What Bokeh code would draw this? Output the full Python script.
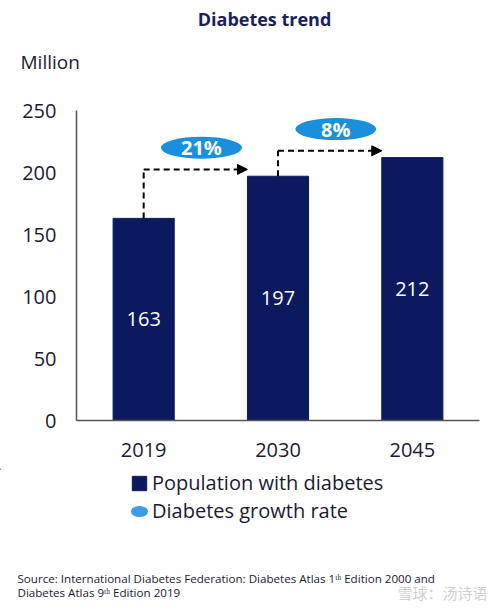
from bokeh.plotting import figure
from bokeh.layouts import column
from bokeh.models import (Range1d, FixedTicker, Label, Legend, LegendItem, Arrow,
                          NormalHead, ColumnDataSource)
from bokeh.core.properties import value
from bokeh.embed import file_html
from bokeh.resources import INLINE

# ---- data ----
years = ["2019", "2030", "2045"]
population = [163, 197, 212]
growth_labels = ["21%", "8%"]
y_ticks = [0, 50, 100, 150, 200, 250]

NAVY = "#0b1a5e"
BLUE = "#1a8fdc"
LEG_BLUE = "#3d9be3"
TEXT = "#1b1b33"
FONT = "Open Sans"
BAR_W = 0.455
W = 500
H_HEAD, H_MAIN, H_FOOT = 96, 372, 140


def no_align(f):
    try:
        f.frame_align = False
    except Exception:
        pass
    return f


def blank(h):
    f = figure(width=W, height=h, x_range=Range1d(0, W), y_range=Range1d(h, 0),
               output_backend="svg", toolbar_location=None, title=None,
               x_axis_location=None, y_axis_location=None,
               min_border_left=0, min_border_right=0, min_border_top=0, min_border_bottom=0)
    f.xgrid.visible = False
    f.ygrid.visible = False
    f.outline_line_color = None
    f.background_fill_color = "white"
    f.border_fill_color = "white"
    return no_align(f)


# ---- header: title + unit ----
head = blank(H_HEAD)
head.add_layout(Label(x=264, y=18, text="Diabetes trend", text_font=FONT,
                      text_font_size="18px", text_font_style="bold", text_color="#1a1f5c",
                      text_align="center", text_baseline="middle"))
head.add_layout(Label(x=20, y=61, text="Million", text_font=FONT, text_font_size="19px",
                      text_color=TEXT, text_align="left", text_baseline="middle"))

# ---- main chart ----
p = figure(width=W, height=H_MAIN, title=None,
           x_range=Range1d(-0.5, len(years) - 0.5), y_range=Range1d(0, 250),
           output_backend="svg", toolbar_location=None,
           min_border_left=76, min_border_right=21, min_border_top=14, min_border_bottom=48)
no_align(p)
p.xgrid.visible = False
p.ygrid.visible = False
p.outline_line_color = None
p.background_fill_color = "white"
p.border_fill_color = "white"

xs = list(range(len(years)))
bars = p.vbar(x=xs, top=population, width=BAR_W, color=NAVY)

p.text(x=xs, y=[v / 2 for v in population], text=[str(v) for v in population],
       text_color="white", text_font=value(FONT), text_font_size="20px",
       text_align="center", text_baseline="middle")

lvl = [population[i + 1] + 5.5 for i in range(len(growth_labels))]
p.segment(x0=xs[:-1], y0=population[:-1], x1=xs[:-1], y1=lvl,
          line_color="black", line_width=2, line_dash="6 4")
asrc = ColumnDataSource(dict(xs=xs[:-1], ys=lvl,
                             xe=[x + 1 - BAR_W / 2 for x in xs[:-1]], ye=lvl))
p.add_layout(Arrow(start=None, end=NormalHead(size=10, fill_color="black", line_color="black"),
                   x_start="xs", y_start="ys", x_end="xe", y_end="ye", source=asrc,
                   line_color="black", line_width=2, line_dash="6 4"))

ex = [x + 0.43 for x in xs[:-1]]
ey = [l + 17.5 for l in lvl]
p.ellipse(x=ex, y=ey, width=81, height=22, width_units="screen", height_units="screen",
          fill_color=BLUE, line_color=None)
p.text(x=ex, y=ey, text=growth_labels, text_color="white", text_font=value(FONT),
       text_font_size="20px", text_font_style="bold", text_align="center",
       text_baseline="middle")

for ax in (p.xaxis[0], p.yaxis[0]):
    ax.axis_line_color = "#555555"
    ax.axis_line_width = 1.5
    ax.major_tick_line_color = None
    ax.minor_tick_line_color = None
    ax.major_tick_out = 0
    ax.major_tick_in = 0
    ax.major_label_text_font = FONT
    ax.major_label_text_font_size = "20px"
    ax.major_label_text_color = TEXT
p.yaxis[0].ticker = FixedTicker(ticks=y_ticks)
p.yaxis[0].major_label_standoff = 20
p.xaxis[0].ticker = FixedTicker(ticks=xs)
p.xaxis[0].major_label_overrides = {i: y for i, y in enumerate(years)}
p.xaxis[0].major_label_standoff = 22

# ---- footer: legend + source ----
foot = blank(H_FOOT)
leg_bar = foot.vbar(x=[-1000], top=[1], width=10, color=NAVY)
# legend swatch ellipse (sits on the legend's own glyph)
leg_ell = foot.ellipse(x=[139], y=[43], width=17, height=11, width_units="screen",
                       height_units="screen", fill_color=LEG_BLUE, line_color=None)
legend = Legend(items=[LegendItem(label="Population with diabetes", renderers=[leg_bar]),
                       LegendItem(label="Diabetes growth rate", renderers=[leg_ell])],
                location=(130, 84), orientation="vertical",
                label_text_font=FONT, label_text_font_size="20px", label_text_color=TEXT,
                glyph_width=18, glyph_height=18, label_standoff=4, spacing=1,
                padding=0, margin=0, border_line_color=None, background_fill_alpha=0)
foot.add_layout(legend)

foot.add_layout(Label(x=17, y=110,
                      text="Source: International Diabetes Federation: Diabetes Atlas 1\u1d57\u02b0 Edition 2000 and",
                      text_font=FONT, text_font_size="11.6px", text_color=TEXT,
                      text_align="left", text_baseline="middle"))
foot.add_layout(Label(x=17, y=124, text="Diabetes Atlas 9\u1d57\u02b0 Edition 2019",
                      text_font=FONT, text_font_size="11.6px", text_color=TEXT,
                      text_align="left", text_baseline="middle"))
foot.add_layout(Label(x=487, y=124, text="雪球：汤诗语", text_font="Noto Sans CJK SC",
                      text_font_size="15px", text_color="#d0d0d0",
                      text_align="right", text_baseline="middle"))

layout = column(head, p, foot, spacing=0)
open("out.html", "w").write(file_html(layout, INLINE))
